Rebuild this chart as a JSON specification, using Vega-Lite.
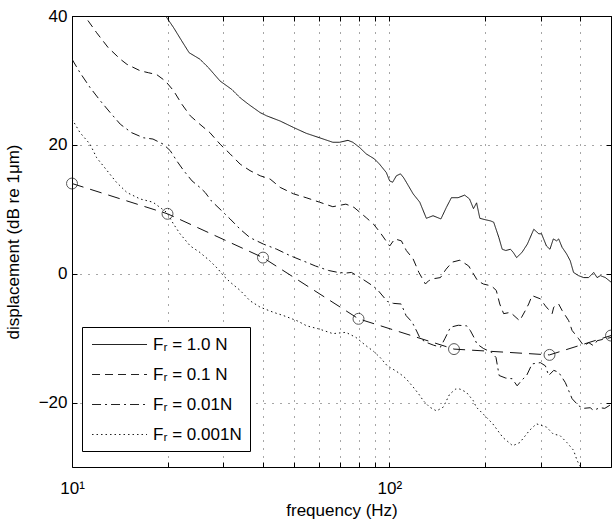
{
  "$schema": "https://vega.github.io/schema/vega-lite/v6.json",
  "width": 539,
  "height": 451,
  "autosize": {"type": "none"},
  "padding": {"left": 72, "top": 16, "right": 1, "bottom": 56},
  "background": "white",
  "config": {
    "font": "Liberation Sans",
    "view": {"stroke": "#000", "strokeWidth": 1},
    "axis": {
      "labelFont": "Liberation Sans",
      "titleFont": "Liberation Sans",
      "labelFontSize": 17,
      "titleFontSize": 17,
      "titleFontWeight": "normal",
      "labelColor": "#000",
      "titleColor": "#000",
      "tickColor": "#000",
      "labelFlush": false,
      "domain": false
    }
  },
  "datasets": {
    "curves": [
      {"f": 19, "db": 41.5, "s": "Fᵣ = 1.0 N"},
      {"f": 19.8, "db": 39.9, "s": "Fᵣ = 1.0 N"},
      {"f": 20.9, "db": 38.2, "s": "Fᵣ = 1.0 N"},
      {"f": 22.2, "db": 36.1, "s": "Fᵣ = 1.0 N"},
      {"f": 23.4, "db": 34.3, "s": "Fᵣ = 1.0 N"},
      {"f": 25.3, "db": 33.3, "s": "Fᵣ = 1.0 N"},
      {"f": 26.9, "db": 32.0, "s": "Fᵣ = 1.0 N"},
      {"f": 29.3, "db": 29.9, "s": "Fᵣ = 1.0 N"},
      {"f": 31.9, "db": 28.6, "s": "Fᵣ = 1.0 N"},
      {"f": 33.9, "db": 27.3, "s": "Fᵣ = 1.0 N"},
      {"f": 36.0, "db": 26.3, "s": "Fᵣ = 1.0 N"},
      {"f": 39.2, "db": 25.0, "s": "Fᵣ = 1.0 N"},
      {"f": 41.1, "db": 24.5, "s": "Fᵣ = 1.0 N"},
      {"f": 45.3, "db": 23.7, "s": "Fᵣ = 1.0 N"},
      {"f": 49.9, "db": 22.7, "s": "Fᵣ = 1.0 N"},
      {"f": 54.7, "db": 21.8, "s": "Fᵣ = 1.0 N"},
      {"f": 60.3, "db": 21.1, "s": "Fᵣ = 1.0 N"},
      {"f": 66.4, "db": 20.4, "s": "Fᵣ = 1.0 N"},
      {"f": 69.7, "db": 20.4, "s": "Fᵣ = 1.0 N"},
      {"f": 74.1, "db": 20.7, "s": "Fᵣ = 1.0 N"},
      {"f": 76.8, "db": 20.4, "s": "Fᵣ = 1.0 N"},
      {"f": 80.6, "db": 19.6, "s": "Fᵣ = 1.0 N"},
      {"f": 84.6, "db": 18.6, "s": "Fᵣ = 1.0 N"},
      {"f": 89.9, "db": 17.8, "s": "Fᵣ = 1.0 N"},
      {"f": 93.2, "db": 17.0, "s": "Fᵣ = 1.0 N"},
      {"f": 97.9, "db": 15.7, "s": "Fᵣ = 1.0 N"},
      {"f": 100.3, "db": 14.4, "s": "Fᵣ = 1.0 N"},
      {"f": 102.5, "db": 14.2, "s": "Fᵣ = 1.0 N"},
      {"f": 105.3, "db": 15.2, "s": "Fᵣ = 1.0 N"},
      {"f": 108.5, "db": 15.5, "s": "Fᵣ = 1.0 N"},
      {"f": 111, "db": 14.9, "s": "Fᵣ = 1.0 N"},
      {"f": 113.2, "db": 14.2, "s": "Fᵣ = 1.0 N"},
      {"f": 118.9, "db": 12.4, "s": "Fᵣ = 1.0 N"},
      {"f": 124.8, "db": 11.1, "s": "Fᵣ = 1.0 N"},
      {"f": 130.9, "db": 8.6, "s": "Fᵣ = 1.0 N"},
      {"f": 137.4, "db": 9.0, "s": "Fᵣ = 1.0 N"},
      {"f": 145.5, "db": 8.5, "s": "Fᵣ = 1.0 N"},
      {"f": 151.4, "db": 10.3, "s": "Fᵣ = 1.0 N"},
      {"f": 157.0, "db": 11.8, "s": "Fᵣ = 1.0 N"},
      {"f": 164.8, "db": 11.8, "s": "Fᵣ = 1.0 N"},
      {"f": 172.9, "db": 12.2, "s": "Fᵣ = 1.0 N"},
      {"f": 179.1, "db": 11.6, "s": "Fᵣ = 1.0 N"},
      {"f": 184.3, "db": 10.1, "s": "Fᵣ = 1.0 N"},
      {"f": 188.5, "db": 11.0, "s": "Fᵣ = 1.0 N"},
      {"f": 193, "db": 8.6, "s": "Fᵣ = 1.0 N"},
      {"f": 200, "db": 8.4, "s": "Fᵣ = 1.0 N"},
      {"f": 208.5, "db": 8.2, "s": "Fᵣ = 1.0 N"},
      {"f": 213.4, "db": 8.0, "s": "Fᵣ = 1.0 N"},
      {"f": 221.6, "db": 5.6, "s": "Fᵣ = 1.0 N"},
      {"f": 227, "db": 3.8, "s": "Fᵣ = 1.0 N"},
      {"f": 233, "db": 3.6, "s": "Fᵣ = 1.0 N"},
      {"f": 241, "db": 3.8, "s": "Fᵣ = 1.0 N"},
      {"f": 246, "db": 3.3, "s": "Fᵣ = 1.0 N"},
      {"f": 252, "db": 2.5, "s": "Fᵣ = 1.0 N"},
      {"f": 262, "db": 3.3, "s": "Fᵣ = 1.0 N"},
      {"f": 272.5, "db": 4.6, "s": "Fᵣ = 1.0 N"},
      {"f": 285.5, "db": 6.9, "s": "Fᵣ = 1.0 N"},
      {"f": 296, "db": 6.2, "s": "Fᵣ = 1.0 N"},
      {"f": 302, "db": 6.2, "s": "Fᵣ = 1.0 N"},
      {"f": 313, "db": 4.3, "s": "Fᵣ = 1.0 N"},
      {"f": 321, "db": 3.8, "s": "Fᵣ = 1.0 N"},
      {"f": 329, "db": 5.4, "s": "Fᵣ = 1.0 N"},
      {"f": 337, "db": 5.1, "s": "Fᵣ = 1.0 N"},
      {"f": 342, "db": 5.4, "s": "Fᵣ = 1.0 N"},
      {"f": 350.6, "db": 4.1, "s": "Fᵣ = 1.0 N"},
      {"f": 362, "db": 3.1, "s": "Fᵣ = 1.0 N"},
      {"f": 372, "db": 2.0, "s": "Fᵣ = 1.0 N"},
      {"f": 381, "db": 0.2, "s": "Fᵣ = 1.0 N"},
      {"f": 395, "db": -0.3, "s": "Fᵣ = 1.0 N"},
      {"f": 410, "db": -0.6, "s": "Fᵣ = 1.0 N"},
      {"f": 425, "db": -0.6, "s": "Fᵣ = 1.0 N"},
      {"f": 441, "db": 0.2, "s": "Fᵣ = 1.0 N"},
      {"f": 452, "db": -0.6, "s": "Fᵣ = 1.0 N"},
      {"f": 463, "db": -0.3, "s": "Fᵣ = 1.0 N"},
      {"f": 480, "db": -0.6, "s": "Fᵣ = 1.0 N"},
      {"f": 500, "db": -1.3, "s": "Fᵣ = 1.0 N"},

      {"f": 10, "db": 42.5, "s": "Fᵣ = 0.1 N"},
      {"f": 11.0, "db": 39.9, "s": "Fᵣ = 0.1 N"},
      {"f": 11.96, "db": 37.4, "s": "Fᵣ = 0.1 N"},
      {"f": 13.0, "db": 35.1, "s": "Fᵣ = 0.1 N"},
      {"f": 14.2, "db": 33.3, "s": "Fᵣ = 0.1 N"},
      {"f": 14.9, "db": 32.5, "s": "Fᵣ = 0.1 N"},
      {"f": 16.4, "db": 31.5, "s": "Fᵣ = 0.1 N"},
      {"f": 17.4, "db": 31.2, "s": "Fᵣ = 0.1 N"},
      {"f": 18.5, "db": 30.9, "s": "Fᵣ = 0.1 N"},
      {"f": 19.7, "db": 29.9, "s": "Fᵣ = 0.1 N"},
      {"f": 20.9, "db": 28.4, "s": "Fᵣ = 0.1 N"},
      {"f": 22.2, "db": 26.3, "s": "Fᵣ = 0.1 N"},
      {"f": 23.6, "db": 24.5, "s": "Fᵣ = 0.1 N"},
      {"f": 25.3, "db": 23.2, "s": "Fᵣ = 0.1 N"},
      {"f": 27.2, "db": 21.9, "s": "Fᵣ = 0.1 N"},
      {"f": 29.3, "db": 20.1, "s": "Fᵣ = 0.1 N"},
      {"f": 31.5, "db": 18.6, "s": "Fᵣ = 0.1 N"},
      {"f": 33.9, "db": 17.0, "s": "Fᵣ = 0.1 N"},
      {"f": 36.4, "db": 16.0, "s": "Fᵣ = 0.1 N"},
      {"f": 39.2, "db": 15.2, "s": "Fᵣ = 0.1 N"},
      {"f": 42.1, "db": 14.7, "s": "Fᵣ = 0.1 N"},
      {"f": 45.3, "db": 13.4, "s": "Fᵣ = 0.1 N"},
      {"f": 49.9, "db": 12.4, "s": "Fᵣ = 0.1 N"},
      {"f": 54.7, "db": 11.8, "s": "Fᵣ = 0.1 N"},
      {"f": 60.3, "db": 11.1, "s": "Fᵣ = 0.1 N"},
      {"f": 66.4, "db": 10.4, "s": "Fᵣ = 0.1 N"},
      {"f": 73.0, "db": 10.8, "s": "Fᵣ = 0.1 N"},
      {"f": 77.4, "db": 10.3, "s": "Fᵣ = 0.1 N"},
      {"f": 84.6, "db": 8.7, "s": "Fᵣ = 0.1 N"},
      {"f": 89.2, "db": 7.7, "s": "Fᵣ = 0.1 N"},
      {"f": 93.6, "db": 6.4, "s": "Fᵣ = 0.1 N"},
      {"f": 100.3, "db": 4.3, "s": "Fᵣ = 0.1 N"},
      {"f": 104.1, "db": 5.4, "s": "Fᵣ = 0.1 N"},
      {"f": 109.2, "db": 5.1, "s": "Fᵣ = 0.1 N"},
      {"f": 113.2, "db": 3.6, "s": "Fᵣ = 0.1 N"},
      {"f": 118.9, "db": 2.3, "s": "Fᵣ = 0.1 N"},
      {"f": 124, "db": 0.2, "s": "Fᵣ = 0.1 N"},
      {"f": 130, "db": -1.6, "s": "Fᵣ = 0.1 N"},
      {"f": 133, "db": -1.1, "s": "Fᵣ = 0.1 N"},
      {"f": 137, "db": -0.8, "s": "Fᵣ = 0.1 N"},
      {"f": 145, "db": -0.6, "s": "Fᵣ = 0.1 N"},
      {"f": 151, "db": 0.7, "s": "Fᵣ = 0.1 N"},
      {"f": 158, "db": 1.8, "s": "Fᵣ = 0.1 N"},
      {"f": 167, "db": 2.1, "s": "Fᵣ = 0.1 N"},
      {"f": 178, "db": 1.2, "s": "Fᵣ = 0.1 N"},
      {"f": 190, "db": -1.1, "s": "Fᵣ = 0.1 N"},
      {"f": 198, "db": -1.6, "s": "Fᵣ = 0.1 N"},
      {"f": 210, "db": -1.9, "s": "Fᵣ = 0.1 N"},
      {"f": 217.5, "db": -2.6, "s": "Fᵣ = 0.1 N"},
      {"f": 223, "db": -4.7, "s": "Fᵣ = 0.1 N"},
      {"f": 229.4, "db": -6.2, "s": "Fᵣ = 0.1 N"},
      {"f": 240.9, "db": -6.0, "s": "Fᵣ = 0.1 N"},
      {"f": 257.7, "db": -7.3, "s": "Fᵣ = 0.1 N"},
      {"f": 268.6, "db": -5.7, "s": "Fᵣ = 0.1 N"},
      {"f": 275.1, "db": -4.7, "s": "Fᵣ = 0.1 N"},
      {"f": 281.9, "db": -3.4, "s": "Fᵣ = 0.1 N"},
      {"f": 299.5, "db": -3.9, "s": "Fᵣ = 0.1 N"},
      {"f": 310.6, "db": -5.0, "s": "Fᵣ = 0.1 N"},
      {"f": 326.2, "db": -6.2, "s": "Fᵣ = 0.1 N"},
      {"f": 329.9, "db": -5.2, "s": "Fᵣ = 0.1 N"},
      {"f": 341.9, "db": -4.7, "s": "Fᵣ = 0.1 N"},
      {"f": 350.6, "db": -5.7, "s": "Fᵣ = 0.1 N"},
      {"f": 367.9, "db": -7.3, "s": "Fᵣ = 0.1 N"},
      {"f": 376.9, "db": -8.8, "s": "Fᵣ = 0.1 N"},
      {"f": 395.5, "db": -10.1, "s": "Fᵣ = 0.1 N"},
      {"f": 410.2, "db": -11.2, "s": "Fᵣ = 0.1 N"},
      {"f": 425.6, "db": -10.7, "s": "Fᵣ = 0.1 N"},
      {"f": 441, "db": -11.2, "s": "Fᵣ = 0.1 N"},
      {"f": 452, "db": -10.4, "s": "Fᵣ = 0.1 N"},
      {"f": 480, "db": -10.1, "s": "Fᵣ = 0.1 N"},
      {"f": 500, "db": -9.9, "s": "Fᵣ = 0.1 N"},

      {"f": 10, "db": 33.3, "s": "Fᵣ = 0.01N"},
      {"f": 10.6, "db": 31.2, "s": "Fᵣ = 0.01N"},
      {"f": 11.4, "db": 28.9, "s": "Fᵣ = 0.01N"},
      {"f": 12.3, "db": 26.8, "s": "Fᵣ = 0.01N"},
      {"f": 13.2, "db": 25.0, "s": "Fᵣ = 0.01N"},
      {"f": 14.2, "db": 23.2, "s": "Fᵣ = 0.01N"},
      {"f": 15.4, "db": 21.9, "s": "Fᵣ = 0.01N"},
      {"f": 16.8, "db": 21.1, "s": "Fᵣ = 0.01N"},
      {"f": 18.0, "db": 20.9, "s": "Fᵣ = 0.01N"},
      {"f": 19.4, "db": 20.1, "s": "Fᵣ = 0.01N"},
      {"f": 20.4, "db": 19.1, "s": "Fᵣ = 0.01N"},
      {"f": 21.4, "db": 17.5, "s": "Fᵣ = 0.01N"},
      {"f": 22.5, "db": 16.0, "s": "Fᵣ = 0.01N"},
      {"f": 23.9, "db": 14.4, "s": "Fᵣ = 0.01N"},
      {"f": 25.3, "db": 13.4, "s": "Fᵣ = 0.01N"},
      {"f": 26.3, "db": 12.6, "s": "Fᵣ = 0.01N"},
      {"f": 27.5, "db": 11.3, "s": "Fᵣ = 0.01N"},
      {"f": 29.6, "db": 9.8, "s": "Fᵣ = 0.01N"},
      {"f": 31.5, "db": 8.5, "s": "Fᵣ = 0.01N"},
      {"f": 33.9, "db": 6.9, "s": "Fᵣ = 0.01N"},
      {"f": 36.4, "db": 5.6, "s": "Fᵣ = 0.01N"},
      {"f": 40.1, "db": 4.6, "s": "Fᵣ = 0.01N"},
      {"f": 44.2, "db": 3.8, "s": "Fᵣ = 0.01N"},
      {"f": 48.7, "db": 2.8, "s": "Fᵣ = 0.01N"},
      {"f": 54.7, "db": 1.8, "s": "Fᵣ = 0.01N"},
      {"f": 58.5, "db": 1.2, "s": "Fᵣ = 0.01N"},
      {"f": 64.4, "db": 0.5, "s": "Fᵣ = 0.01N"},
      {"f": 69, "db": 0.2, "s": "Fᵣ = 0.01N"},
      {"f": 73, "db": 0.1, "s": "Fᵣ = 0.01N"},
      {"f": 76, "db": 0.2, "s": "Fᵣ = 0.01N"},
      {"f": 81, "db": -0.6, "s": "Fᵣ = 0.01N"},
      {"f": 87, "db": -1.6, "s": "Fᵣ = 0.01N"},
      {"f": 91.5, "db": -2.4, "s": "Fᵣ = 0.01N"},
      {"f": 98.6, "db": -4.3, "s": "Fᵣ = 0.01N"},
      {"f": 103, "db": -4.6, "s": "Fᵣ = 0.01N"},
      {"f": 109, "db": -4.7, "s": "Fᵣ = 0.01N"},
      {"f": 113, "db": -6.5, "s": "Fᵣ = 0.01N"},
      {"f": 118, "db": -7.5, "s": "Fᵣ = 0.01N"},
      {"f": 122, "db": -8.9, "s": "Fᵣ = 0.01N"},
      {"f": 125, "db": -10.0, "s": "Fᵣ = 0.01N"},
      {"f": 130, "db": -10.6, "s": "Fᵣ = 0.01N"},
      {"f": 138, "db": -11.1, "s": "Fᵣ = 0.01N"},
      {"f": 145, "db": -11.4, "s": "Fᵣ = 0.01N"},
      {"f": 150, "db": -10.0, "s": "Fᵣ = 0.01N"},
      {"f": 156, "db": -8.3, "s": "Fᵣ = 0.01N"},
      {"f": 165, "db": -8.0, "s": "Fᵣ = 0.01N"},
      {"f": 175.6, "db": -8.1, "s": "Fᵣ = 0.01N"},
      {"f": 180, "db": -8.8, "s": "Fᵣ = 0.01N"},
      {"f": 185, "db": -9.9, "s": "Fᵣ = 0.01N"},
      {"f": 189, "db": -10.9, "s": "Fᵣ = 0.01N"},
      {"f": 198, "db": -11.6, "s": "Fᵣ = 0.01N"},
      {"f": 210, "db": -12.2, "s": "Fᵣ = 0.01N"},
      {"f": 217, "db": -13.0, "s": "Fᵣ = 0.01N"},
      {"f": 222, "db": -15.8, "s": "Fᵣ = 0.01N"},
      {"f": 233, "db": -16.2, "s": "Fᵣ = 0.01N"},
      {"f": 244, "db": -16.3, "s": "Fᵣ = 0.01N"},
      {"f": 253, "db": -17.4, "s": "Fᵣ = 0.01N"},
      {"f": 262, "db": -16.5, "s": "Fᵣ = 0.01N"},
      {"f": 271, "db": -15.8, "s": "Fᵣ = 0.01N"},
      {"f": 282, "db": -14.0, "s": "Fᵣ = 0.01N"},
      {"f": 299.5, "db": -13.8, "s": "Fᵣ = 0.01N"},
      {"f": 310.6, "db": -14.3, "s": "Fᵣ = 0.01N"},
      {"f": 318, "db": -15.8, "s": "Fᵣ = 0.01N"},
      {"f": 330, "db": -15.0, "s": "Fᵣ = 0.01N"},
      {"f": 342, "db": -15.3, "s": "Fᵣ = 0.01N"},
      {"f": 359, "db": -16.9, "s": "Fᵣ = 0.01N"},
      {"f": 377, "db": -19.4, "s": "Fᵣ = 0.01N"},
      {"f": 395.5, "db": -20.5, "s": "Fᵣ = 0.01N"},
      {"f": 409, "db": -20.9, "s": "Fᵣ = 0.01N"},
      {"f": 430, "db": -20.8, "s": "Fᵣ = 0.01N"},
      {"f": 440, "db": -21.2, "s": "Fᵣ = 0.01N"},
      {"f": 462, "db": -20.8, "s": "Fᵣ = 0.01N"},
      {"f": 478, "db": -20.9, "s": "Fᵣ = 0.01N"},
      {"f": 500, "db": -20.3, "s": "Fᵣ = 0.01N"},

      {"f": 10, "db": 24.0, "s": "Fᵣ = 0.001N"},
      {"f": 10.6, "db": 21.9, "s": "Fᵣ = 0.001N"},
      {"f": 11.4, "db": 20.1, "s": "Fᵣ = 0.001N"},
      {"f": 11.96, "db": 18.0, "s": "Fᵣ = 0.001N"},
      {"f": 12.9, "db": 16.0, "s": "Fᵣ = 0.001N"},
      {"f": 13.8, "db": 14.2, "s": "Fᵣ = 0.001N"},
      {"f": 14.9, "db": 12.6, "s": "Fᵣ = 0.001N"},
      {"f": 16.4, "db": 11.6, "s": "Fᵣ = 0.001N"},
      {"f": 18.0, "db": 11.1, "s": "Fᵣ = 0.001N"},
      {"f": 19.9, "db": 9.5, "s": "Fᵣ = 0.001N"},
      {"f": 20.9, "db": 7.7, "s": "Fᵣ = 0.001N"},
      {"f": 21.9, "db": 6.2, "s": "Fᵣ = 0.001N"},
      {"f": 23.6, "db": 4.3, "s": "Fᵣ = 0.001N"},
      {"f": 25.3, "db": 3.3, "s": "Fᵣ = 0.001N"},
      {"f": 27.2, "db": 2.0, "s": "Fᵣ = 0.001N"},
      {"f": 28.9, "db": 0.7, "s": "Fᵣ = 0.001N"},
      {"f": 30.0, "db": -0.3, "s": "Fᵣ = 0.001N"},
      {"f": 31.5, "db": -1.3, "s": "Fᵣ = 0.001N"},
      {"f": 33.9, "db": -2.6, "s": "Fᵣ = 0.001N"},
      {"f": 36.4, "db": -4.2, "s": "Fᵣ = 0.001N"},
      {"f": 39.2, "db": -5.2, "s": "Fᵣ = 0.001N"},
      {"f": 43.2, "db": -6.0, "s": "Fᵣ = 0.001N"},
      {"f": 46.4, "db": -6.5, "s": "Fᵣ = 0.001N"},
      {"f": 51.2, "db": -7.3, "s": "Fᵣ = 0.001N"},
      {"f": 55, "db": -8.1, "s": "Fᵣ = 0.001N"},
      {"f": 60.3, "db": -8.6, "s": "Fᵣ = 0.001N"},
      {"f": 66.4, "db": -9.3, "s": "Fᵣ = 0.001N"},
      {"f": 73, "db": -9.1, "s": "Fᵣ = 0.001N"},
      {"f": 78.6, "db": -9.9, "s": "Fᵣ = 0.001N"},
      {"f": 84.6, "db": -11.2, "s": "Fᵣ = 0.001N"},
      {"f": 89, "db": -12.0, "s": "Fᵣ = 0.001N"},
      {"f": 93.6, "db": -13.0, "s": "Fᵣ = 0.001N"},
      {"f": 98.6, "db": -14.3, "s": "Fᵣ = 0.001N"},
      {"f": 105, "db": -15.1, "s": "Fᵣ = 0.001N"},
      {"f": 110, "db": -15.8, "s": "Fᵣ = 0.001N"},
      {"f": 113, "db": -16.3, "s": "Fᵣ = 0.001N"},
      {"f": 119, "db": -17.6, "s": "Fᵣ = 0.001N"},
      {"f": 124, "db": -18.7, "s": "Fᵣ = 0.001N"},
      {"f": 128, "db": -19.7, "s": "Fᵣ = 0.001N"},
      {"f": 134, "db": -20.7, "s": "Fᵣ = 0.001N"},
      {"f": 141, "db": -21.3, "s": "Fᵣ = 0.001N"},
      {"f": 148, "db": -20.7, "s": "Fᵣ = 0.001N"},
      {"f": 155, "db": -18.7, "s": "Fᵣ = 0.001N"},
      {"f": 162, "db": -17.9, "s": "Fᵣ = 0.001N"},
      {"f": 167, "db": -17.9, "s": "Fᵣ = 0.001N"},
      {"f": 175, "db": -18.4, "s": "Fᵣ = 0.001N"},
      {"f": 184, "db": -19.7, "s": "Fᵣ = 0.001N"},
      {"f": 188, "db": -20.7, "s": "Fᵣ = 0.001N"},
      {"f": 198, "db": -21.8, "s": "Fᵣ = 0.001N"},
      {"f": 212, "db": -23.3, "s": "Fᵣ = 0.001N"},
      {"f": 228, "db": -25.4, "s": "Fᵣ = 0.001N"},
      {"f": 245, "db": -26.7, "s": "Fᵣ = 0.001N"},
      {"f": 258, "db": -26.2, "s": "Fᵣ = 0.001N"},
      {"f": 277, "db": -24.3, "s": "Fᵣ = 0.001N"},
      {"f": 291, "db": -23.3, "s": "Fᵣ = 0.001N"},
      {"f": 313, "db": -23.8, "s": "Fᵣ = 0.001N"},
      {"f": 329, "db": -24.9, "s": "Fᵣ = 0.001N"},
      {"f": 345, "db": -25.1, "s": "Fᵣ = 0.001N"},
      {"f": 363, "db": -26.2, "s": "Fᵣ = 0.001N"},
      {"f": 381, "db": -27.4, "s": "Fᵣ = 0.001N"},
      {"f": 391, "db": -29.0, "s": "Fᵣ = 0.001N"},
      {"f": 401, "db": -30.0, "s": "Fᵣ = 0.001N"},
      {"f": 420, "db": -31.0, "s": "Fᵣ = 0.001N"}
    ],
    "model": [
      {"f": 10, "db": 14.0},
      {"f": 20, "db": 9.3},
      {"f": 40, "db": 2.5},
      {"f": 80, "db": -7.0},
      {"f": 160, "db": -11.7},
      {"f": 320, "db": -12.6},
      {"f": 500, "db": -9.6}
    ]
  },
  "layer": [
    {
      "data": {"name": "curves"},
      "mark": {"type": "line", "clip": true, "strokeWidth": 1, "color": "#111"},
      "encoding": {
        "x": {
          "field": "f", "type": "quantitative",
          "scale": {"type": "log", "domain": [10, 500], "nice": false},
          "axis": {
            "orient": "bottom",
            "values": [10, 20, 30, 40, 50, 60, 70, 80, 90, 100, 200, 300, 400, 500],
            "labelExpr": "datum.value == 10 ? '10¹' : (datum.value == 100 ? '10²' : '')",
            "grid": true, "gridDash": [1, 7], "gridColor": "#000", "gridOpacity": 0.7,
            "tickSize": -5, "labelPadding": 18,
            "title": "frequency (Hz)", "titlePadding": 6
          }
        },
        "y": {
          "field": "db", "type": "quantitative",
          "scale": {"domain": [-30, 40], "nice": false, "zero": false},
          "axis": {
            "orient": "left",
            "values": [-20, 0, 20, 40],
            "grid": true, "gridDash": [1, 7], "gridColor": "#000", "gridOpacity": 0.7,
            "tickSize": -5, "labelPadding": 10,
            "title": "displacement (dB re 1μm)", "titlePadding": 16
          }
        },
        "strokeDash": {
          "field": "s", "type": "nominal",
          "scale": {
            "domain": ["Fᵣ = 1.0 N", "Fᵣ = 0.1 N", "Fᵣ = 0.01N", "Fᵣ = 0.001N"],
            "range": [[1, 0], [8, 5], [9, 4, 2, 4], [1.5, 3]]
          },
          "legend": {
            "orient": "none", "legendX": 10, "legendY": 311,
            "title": null,
            "symbolType": "M-0.83,0H5.28", "symbolSize": 324, "symbolStrokeWidth": 1,
            "symbolStrokeColor": "#222", "symbolFillColor": "transparent",
            "labelFontSize": 17, "labelFont": "Liberation Sans", "labelColor": "#000",
            "labelOffset": 44,
            "strokeColor": "#000", "fillColor": "white", "padding": 8,
            "cornerRadius": 0, "rowPadding": 12
          }
        }
      }
    },
    {
      "data": {"name": "model"},
      "mark": {"type": "line", "clip": true, "strokeWidth": 1, "color": "#111", "strokeDash": [12, 7]},
      "encoding": {
        "x": {"field": "f", "type": "quantitative",
          "axis": {"orient": "top", "values": [10, 20, 30, 40, 50, 60, 70, 80, 90, 100, 200, 300, 400, 500], "labels": false, "grid": false, "title": null, "tickSize": -5}},
        "y": {"field": "db", "type": "quantitative",
          "axis": {"orient": "right", "values": [-20, 0, 20, 40], "labels": false, "grid": false, "title": null, "tickSize": -5}}
      }
    },
    {
      "data": {"name": "model"},
      "mark": {"type": "point", "shape": "circle", "filled": false, "size": 120, "stroke": "#111", "strokeWidth": 1, "clip": false},
      "encoding": {
        "x": {"field": "f", "type": "quantitative", "axis": null},
        "y": {"field": "db", "type": "quantitative", "axis": null}
      }
    }
  ],
  "resolve": {"axis": {"x": "independent", "y": "independent"}}
}
